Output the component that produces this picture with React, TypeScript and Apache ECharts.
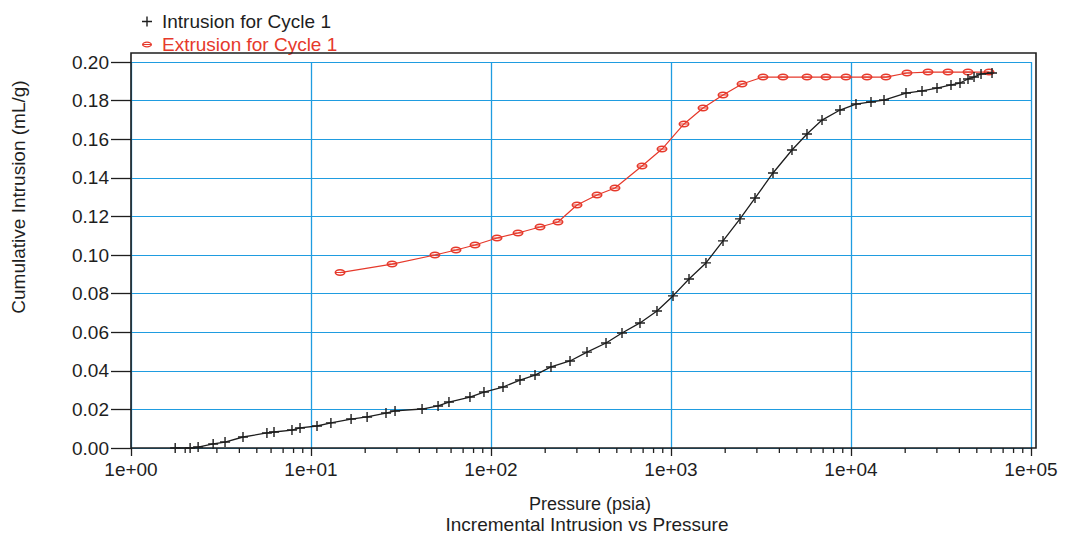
import React, { useEffect, useRef } from "react";
import * as echarts from "echarts";

// Cycle 1 intrusion: pressure (psia) and cumulative intrusion (mL/g)
const intrusionPressure = [
  1.76, 2.13, 2.36, 2.86, 3.33, 4.19, 5.69, 6.23, 7.84, 8.69, 10.8, 12.9, 16.7, 20.5, 26.1, 29.3,
  41.4, 50.8, 58.4, 76.4, 91.4, 116.6, 144.9, 175.6, 215.4, 274.8, 341.5, 435.5, 534.3, 672.5,
  835.9, 1026, 1259, 1564, 1945, 2417, 2929, 3687, 4700, 5695, 6902, 8687, 10660, 12915, 15255,
  20210, 24805, 30050, 35940, 40325, 44670, 48250, 52770, 60730,
];
const intrusionVolume = [
  0.0, 0.0, 0.0005, 0.0021, 0.0031, 0.0057, 0.0078, 0.0083, 0.0093, 0.0104, 0.0114, 0.013, 0.015,
  0.0161, 0.0181, 0.0192, 0.0202, 0.0218, 0.0238, 0.0264, 0.029, 0.0316, 0.0352, 0.0378, 0.042,
  0.0451, 0.0497, 0.0544, 0.0596, 0.0648, 0.071, 0.0788, 0.0876, 0.0959, 0.1073, 0.1187, 0.1295,
  0.1425, 0.1544, 0.1627, 0.1699, 0.1751, 0.1782, 0.1793, 0.1803, 0.1839, 0.185, 0.1865, 0.1881,
  0.1891, 0.1912, 0.1922, 0.1938, 0.1943,
];

// Cycle 1 extrusion, from the highest pressure down
const extrusionPressure = [
  58450, 44670, 34580, 26780, 20470, 15640, 12270, 9380, 7263, 5695, 4190, 3245, 2480, 1945, 1506,
  1181, 891.3, 690.2, 488.6, 388.1, 300.5, 235.6, 187.2, 141.3, 108.0, 81.5, 63.9, 48.8, 28.2, 14.5,
];
const extrusionVolume = [
  0.1948, 0.1948, 0.1948, 0.1948, 0.1943, 0.1922, 0.1922, 0.1922, 0.1922, 0.1922, 0.1922, 0.1922,
  0.1886, 0.1829, 0.1762, 0.1679, 0.1549, 0.1461, 0.1347, 0.1311, 0.1259, 0.1171, 0.1145, 0.1114,
  0.1088, 0.1052, 0.1026, 0.1, 0.0953, 0.0909,
];

// Log-axis minor tick positions: 2..9 within each decade
const minorMultipliers = [2, 3, 4, 5, 6, 7, 8, 9];
const decades = [1, 10, 100, 1000, 10000];

const FONT = "'Liberation Sans', Arial, sans-serif";
const INK = "#1e1e1e";
const RED = "#e6392b";
const GRID_BLUE = "#1f9ce0";

const PLUS = "path://M4.3,0H5.7V4.3H10V5.7H5.7V10H4.3V5.7H0V4.3H4.3Z";
const OVAL =
  "path://M0,3A5,3 0 1,1 10,3A5,3 0 1,1 0,3ZM1.4,3A3.6,1.7 0 1,0 8.6,3A3.6,1.7 0 1,0 1.4,3ZM1,2.6H9V3.4H1Z";
const OVAL_ICON =
  "path://M5,0h0.01v0.01h-0.01zM5,9.99h0.01v0.01h-0.01zM0,5A5,3 0 1,1 10,5A5,3 0 1,1 0,5ZM1.4,5A3.6,1.7 0 1,0 8.6,5A3.6,1.7 0 1,0 1.4,5ZM1,4.6H9V5.4H1Z";

export default function App() {
  const ref = useRef<HTMLDivElement>(null);

  useEffect(() => {
    if (!ref.current) return;
    const chart = echarts.init(ref.current, undefined, { renderer: "svg" });

    const minorTicks: number[][] = [];
    decades.forEach((d) => minorMultipliers.forEach((m) => minorTicks.push([m * d, 0])));

    chart.setOption({
      animation: false,
      backgroundColor: "#ffffff",
      textStyle: { fontFamily: FONT },
      grid: { left: 131, right: 35, top: 62, bottom: 91 },
      legend: {
        orient: "vertical",
        left: 137,
        top: 7,
        itemWidth: 20,
        itemHeight: 10,
        itemGap: 4,
        selectedMode: false,
        textStyle: { fontSize: 19, fontFamily: FONT },
        data: [
          {
            name: "Intrusion for Cycle 1",
            icon: PLUS,
            itemStyle: { color: INK },
            textStyle: { color: INK },
          },
          {
            name: "Extrusion for Cycle 1",
            icon: OVAL_ICON,
            itemStyle: { color: RED },
            textStyle: { color: RED },
          },
        ],
      },
      xAxis: {
        type: "log",
        logBase: 10,
        min: 1,
        max: 100000,
        axisLine: { show: false },
        axisTick: { show: true, length: 8, lineStyle: { color: INK, width: 1.3 } },
        axisLabel: {
          margin: 12,
          fontSize: 19,
          color: INK,
          fontFamily: FONT,
          formatter: (v: number) =>
            "1e+" + String(Math.round(Math.log10(v))).padStart(2, "0"),
        },
        splitLine: { show: true, lineStyle: { color: GRID_BLUE, width: 1.3 } },
      },
      yAxis: {
        type: "value",
        min: 0,
        max: 0.2,
        interval: 0.02,
        axisLine: { show: false },
        axisTick: { show: true, length: 20, lineStyle: { color: INK, width: 1.3 } },
        axisLabel: {
          margin: 22,
          fontSize: 19,
          color: INK,
          fontFamily: FONT,
          formatter: (v: number) => v.toFixed(2),
        },
        splitLine: { show: true, lineStyle: { color: GRID_BLUE, width: 1.2 } },
      },
      series: [
        {
          name: "Intrusion for Cycle 1",
          type: "line",
          data: intrusionPressure.map((p, i) => [p, intrusionVolume[i]]),
          symbol: PLUS,
          symbolSize: 10,
          showAllSymbol: true,
          itemStyle: { color: INK },
          lineStyle: { color: INK, width: 1.3 },
          z: 4,
        },
        {
          name: "Extrusion for Cycle 1",
          type: "line",
          data: extrusionPressure.map((p, i) => [p, extrusionVolume[i]]),
          symbol: OVAL,
          symbolSize: [11, 7],
          showAllSymbol: true,
          itemStyle: { color: RED },
          lineStyle: { color: RED, width: 1.2 },
          z: 3,
        },
        {
          type: "custom",
          silent: true,
          clip: false,
          z: 5,
          data: minorTicks,
          renderItem: (_params: any, api: any) => {
            const pt = api.coord([api.value(0), 0]);
            return {
              type: "line",
              shape: { x1: pt[0], y1: pt[1], x2: pt[0], y2: pt[1] + 5 },
              style: { stroke: INK, lineWidth: 1.3 },
            };
          },
        },
      ],
      graphic: [
        {
          type: "rect",
          z: 10,
          silent: true,
          shape: { x: 131, y: 53, width: 905, height: 395 },
          style: { fill: "none", stroke: INK, lineWidth: 1.6 },
        },
        {
          type: "text",
          x: 18,
          y: 197,
          rotation: Math.PI / 2,
          style: {
            text: "Cumulative Intrusion (mL/g)",
            fontSize: 19,
            fontFamily: FONT,
            fill: INK,
            align: "center",
            verticalAlign: "middle",
          },
        },
        {
          type: "text",
          x: 590,
          y: 504,
          style: {
            text: "Pressure (psia)",
            fontSize: 18,
            fontFamily: FONT,
            fill: INK,
            align: "center",
            verticalAlign: "middle",
          },
        },
        {
          type: "text",
          x: 587,
          y: 524,
          style: {
            text: "Incremental Intrusion vs Pressure",
            fontSize: 19,
            fontFamily: FONT,
            fill: INK,
            align: "center",
            verticalAlign: "middle",
          },
        },
      ],
    });

    return () => chart.dispose();
  }, []);

  return (
    <div
      ref={ref}
      style={{ position: "fixed", left: 0, top: 0, width: 1066, height: 539, background: "#fff" }}
    />
  );
}
